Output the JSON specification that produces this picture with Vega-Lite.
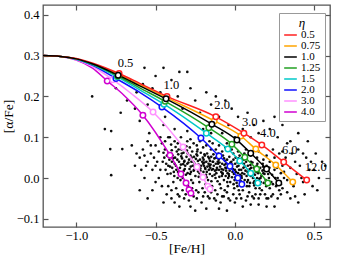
{
"$schema":"https://vega.github.io/schema/vega-lite/v6.json",
"width":287,"height":222,
"autosize":{"type":"none"},
"padding":{"left":43,"top":5,"right":9,"bottom":31},
"config":{
 "font":"Liberation Serif",
 "view":{"stroke":"#555","strokeWidth":1.3},
 "axis":{"grid":false,"domain":false,"labelFont":"Liberation Serif","titleFont":"Liberation Serif","labelFontSize":12.5,"titleFontSize":13.5,"titleFontWeight":"normal","labelColor":"#000","titleColor":"#000","tickColor":"#555","tickWidth":1.2,"tickSize":-5},
 "legend":{"labelFont":"Liberation Serif","titleFont":"Liberation Serif"}
},
"datasets":{
"stars":[
{"x":-0.82,"y":0.12},{"x":-0.78,"y":0.115},{"x":-0.71,"y":0.071},{"x":-0.786,"y":0.071},{"x":-0.78,"y":0.007},{"x":-0.68,"y":0.19},{"x":-0.62,"y":0.21},{"x":-0.58,"y":0.23},{"x":-0.55,"y":0.18},{"x":-0.52,"y":0.22},{"x":-0.63,"y":0.17},{"x":-0.6,"y":0.14},{"x":-0.5,"y":0.25},{"x":-0.47,"y":0.21},{"x":-0.44,"y":0.15},{"x":-0.4,"y":0.24},{"x":-0.36,"y":0.2},{"x":-0.33,"y":0.17},{"x":-0.3,"y":0.26},{"x":-0.28,"y":0.22},{"x":-0.25,"y":0.19},{"x":-0.22,"y":0.16},{"x":-0.18,"y":0.21},{"x":-0.15,"y":0.18},{"x":-0.12,"y":0.2},{"x":-0.1,"y":0.15},{"x":-0.06,"y":0.19},{"x":-0.04,"y":0.13},{"x":-0.02,"y":0.17},{"x":0.02,"y":0.15},{"x":0.05,"y":0.12},{"x":0.08,"y":0.16},{"x":0.12,"y":0.13},{"x":0.15,"y":0.11},{"x":0.18,"y":0.14},{"x":0.22,"y":0.12},{"x":0.27,"y":0.1},{"x":0.3,"y":0.13},{"x":0.35,"y":0.09},{"x":0.4,"y":0.11},{"x":-0.72,"y":0.16},{"x":-0.66,"y":0.24},{"x":-0.57,"y":0.27},{"x":-0.45,"y":0.27},{"x":-0.38,"y":0.12},{"x":-0.35,"y":0.26},{"x":-0.2,"y":0.12},{"x":-0.08,"y":0.11},{"x":0.1,"y":0.1},{"x":0.25,"y":0.15},{"x":-0.9,"y":0.2},{"x":-0.75,"y":0.22},{"x":0.53,"y":0.19},
{"x":-0.445,"y":0.05},{"x":-0.437,"y":0.02},{"x":-0.441,"y":0.07},{"x":-0.433,"y":0.035},
{"x":-0.413,"y":0.045},{"x":-0.405,"y":0.011},{"x":-0.418,"y":0.061},{"x":-0.409,"y":0.028},{"x":-0.402,"y":0.082},
{"x":-0.393,"y":0.055},{"x":-0.385,"y":0.015},{"x":-0.397,"y":0.04},{"x":-0.388,"y":-0.01},
{"x":-0.372,"y":0.03},{"x":-0.366,"y":0.065},{"x":-0.377,"y":0.05},{"x":-0.361,"y":0.0},{"x":-0.369,"y":0.02},{"x":-0.374,"y":0.076},
{"x":-0.352,"y":0.04},{"x":-0.346,"y":0.025},{"x":-0.357,"y":0.058},{"x":-0.343,"y":-0.005},{"x":-0.349,"y":0.012},
{"x":-0.333,"y":0.048},{"x":-0.326,"y":0.034},{"x":-0.337,"y":0.07},{"x":-0.322,"y":0.018},{"x":-0.329,"y":0.0},{"x":-0.335,"y":0.06},
{"x":-0.313,"y":0.03},{"x":-0.305,"y":0.052},{"x":-0.318,"y":0.042},{"x":-0.309,"y":0.008},{"x":-0.302,"y":0.067},{"x":-0.315,"y":-0.015},
{"x":-0.293,"y":0.038},{"x":-0.286,"y":0.022},{"x":-0.297,"y":0.06},{"x":-0.289,"y":0.045},{"x":-0.282,"y":0.01},{"x":-0.295,"y":-0.02},{"x":-0.284,"y":0.075},
{"x":-0.273,"y":0.05},{"x":-0.266,"y":0.03},{"x":-0.277,"y":0.015},{"x":-0.262,"y":0.04},{"x":-0.269,"y":0.065},{"x":-0.275,"y":-0.005},
{"x":-0.253,"y":0.035},{"x":-0.246,"y":0.047},{"x":-0.257,"y":0.02},{"x":-0.242,"y":0.058},{"x":-0.249,"y":0.005},{"x":-0.255,"y":0.028},{"x":-0.244,"y":-0.03},
{"x":-0.233,"y":0.042},{"x":-0.226,"y":0.025},{"x":-0.237,"y":0.055},{"x":-0.222,"y":0.012},{"x":-0.229,"y":0.033},{"x":-0.235,"y":0.07},{"x":-0.224,"y":-0.01},
{"x":-0.213,"y":0.03},{"x":-0.206,"y":0.04},{"x":-0.217,"y":0.018},{"x":-0.202,"y":0.05},{"x":-0.209,"y":0.0},{"x":-0.215,"y":0.062},{"x":-0.204,"y":-0.025},
{"x":-0.193,"y":0.038},{"x":-0.186,"y":0.022},{"x":-0.197,"y":0.045},{"x":-0.182,"y":0.008},{"x":-0.189,"y":0.055},{"x":-0.195,"y":0.03},{"x":-0.184,"y":-0.015},
{"x":-0.173,"y":0.028},{"x":-0.166,"y":0.035},{"x":-0.177,"y":0.015},{"x":-0.162,"y":0.048},{"x":-0.169,"y":-0.005},{"x":-0.175,"y":0.06},{"x":-0.164,"y":0.02},
{"x":-0.153,"y":0.033},{"x":-0.146,"y":0.02},{"x":-0.157,"y":0.042},{"x":-0.142,"y":0.005},{"x":-0.149,"y":0.052},{"x":-0.155,"y":0.025},{"x":-0.144,"y":-0.02},{"x":-0.151,"y":0.07},
{"x":-0.133,"y":0.03},{"x":-0.126,"y":0.018},{"x":-0.137,"y":0.04},{"x":-0.122,"y":0.0},{"x":-0.129,"y":0.048},{"x":-0.135,"y":0.058},{"x":-0.124,"y":-0.03},
{"x":-0.113,"y":0.025},{"x":-0.106,"y":0.035},{"x":-0.117,"y":0.012},{"x":-0.102,"y":0.045},{"x":-0.109,"y":-0.008},{"x":-0.115,"y":0.02},{"x":-0.104,"y":0.06},
{"x":-0.093,"y":0.028},{"x":-0.086,"y":0.015},{"x":-0.097,"y":0.038},{"x":-0.082,"y":0.005},{"x":-0.089,"y":0.05},{"x":-0.095,"y":-0.015},{"x":-0.084,"y":0.022},
{"x":-0.073,"y":0.02},{"x":-0.066,"y":0.032},{"x":-0.077,"y":0.01},{"x":-0.062,"y":0.042},{"x":-0.069,"y":-0.005},{"x":-0.075,"y":0.055},{"x":-0.064,"y":-0.03},
{"x":-0.053,"y":0.025},{"x":-0.046,"y":0.012},{"x":-0.057,"y":0.035},{"x":-0.042,"y":0.0},{"x":-0.049,"y":0.045},{"x":-0.055,"y":0.018},{"x":-0.044,"y":-0.02},
{"x":-0.033,"y":0.018},{"x":-0.026,"y":0.03},{"x":-0.037,"y":0.005},{"x":-0.022,"y":0.04},{"x":-0.029,"y":-0.01},{"x":-0.035,"y":0.052},
{"x":-0.013,"y":0.022},{"x":-0.006,"y":0.01},{"x":-0.017,"y":0.033},{"x":-0.002,"y":-0.005},{"x":-0.009,"y":0.045},{"x":-0.015,"y":0.015},{"x":-0.004,"y":-0.025},
{"x":0.007,"y":0.015},{"x":0.014,"y":0.028},{"x":0.003,"y":0.002},{"x":0.018,"y":0.038},{"x":0.011,"y":-0.012},{"x":0.005,"y":0.05},
{"x":0.027,"y":0.02},{"x":0.034,"y":0.008},{"x":0.023,"y":0.03},{"x":0.038,"y":-0.008},{"x":0.031,"y":0.042},{"x":0.025,"y":-0.03},
{"x":0.047,"y":0.012},{"x":0.054,"y":0.025},{"x":0.043,"y":0.0},{"x":0.058,"y":0.035},{"x":0.051,"y":-0.015},{"x":0.045,"y":0.048},
{"x":0.067,"y":0.018},{"x":0.074,"y":0.005},{"x":0.063,"y":0.028},{"x":0.078,"y":-0.01},{"x":0.071,"y":0.04},
{"x":0.087,"y":0.01},{"x":0.094,"y":0.022},{"x":0.083,"y":-0.005},{"x":0.098,"y":0.032},{"x":0.091,"y":-0.02},
{"x":0.107,"y":0.015},{"x":0.114,"y":0.0},{"x":0.103,"y":0.025},{"x":0.118,"y":-0.012},{"x":0.111,"y":0.038},
{"x":0.127,"y":0.008},{"x":0.134,"y":0.02},{"x":0.123,"y":-0.008},{"x":0.138,"y":0.03},{"x":0.131,"y":-0.025},
{"x":0.147,"y":0.012},{"x":0.154,"y":-0.002},{"x":0.143,"y":0.022},{"x":0.158,"y":-0.015},
{"x":0.167,"y":0.005},{"x":0.174,"y":0.018},{"x":0.163,"y":-0.01},{"x":0.178,"y":0.028},
{"x":0.187,"y":0.01},{"x":0.194,"y":-0.005},{"x":0.183,"y":0.02},{"x":0.198,"y":-0.02},
{"x":-0.6,"y":0.05},{"x":-0.58,"y":0.07},{"x":-0.56,"y":0.03},{"x":-0.55,"y":0.09},{"x":-0.53,"y":0.06},{"x":-0.52,"y":0.02},{"x":-0.5,"y":0.08},{"x":-0.49,"y":0.04},{"x":-0.48,"y":0.0},{"x":-0.47,"y":0.1},{"x":-0.46,"y":-0.02},{"x":-0.5,"y":-0.01},{"x":-0.54,"y":0.11},{"x":-0.57,"y":0.0},{"x":-0.43,"y":-0.04},{"x":-0.4,"y":-0.03},{"x":-0.42,"y":0.1},{"x":-0.38,"y":0.09},{"x":-0.36,"y":-0.04},{"x":-0.34,"y":0.1},{"x":-0.32,"y":-0.05},{"x":-0.3,"y":0.09},{"x":-0.28,"y":-0.04},{"x":-0.26,"y":0.085},{"x":-0.24,"y":-0.05},{"x":-0.22,"y":0.09},{"x":-0.2,"y":-0.045},{"x":-0.18,"y":0.08},{"x":-0.16,"y":-0.05},{"x":-0.14,"y":0.085},{"x":-0.12,"y":-0.055},{"x":-0.1,"y":0.08},{"x":-0.08,"y":-0.045},{"x":-0.06,"y":0.075},{"x":-0.04,"y":-0.05},{"x":-0.02,"y":0.07},{"x":0.0,"y":-0.06},{"x":0.02,"y":0.065},{"x":0.04,"y":-0.05},{"x":0.06,"y":0.06},{"x":0.08,"y":-0.045},{"x":0.1,"y":0.055},{"x":0.12,"y":-0.05},{"x":0.14,"y":0.05},{"x":0.16,"y":-0.04},{"x":0.18,"y":0.045},{"x":0.2,"y":-0.05},{"x":0.22,"y":0.04},{"x":0.24,"y":-0.04},{"x":0.26,"y":0.035},{"x":0.28,"y":-0.03},{"x":0.3,"y":0.03},{"x":-0.35,"y":-0.07},{"x":-0.25,"y":-0.08},{"x":-0.1,"y":-0.075},{"x":0.05,"y":-0.07},{"x":0.15,"y":-0.065},{"x":-0.45,"y":0.13},{"x":-0.3,"y":0.115},{"x":-0.15,"y":0.11},{"x":0.0,"y":0.1},{"x":0.18,"y":0.08},{"x":-0.6,"y":-0.03},{"x":-0.65,"y":0.08},{"x":-0.38,"y":-0.06},{"x":0.25,"y":-0.07},{"x":0.35,"y":-0.05},
{"x":0.21,"y":0.01},{"x":0.23,"y":-0.01},{"x":0.25,"y":0.02},{"x":0.27,"y":0.0},{"x":0.29,"y":-0.015},{"x":0.31,"y":0.015},{"x":0.33,"y":-0.005},{"x":0.35,"y":0.025},{"x":0.37,"y":-0.02},{"x":0.39,"y":0.01},{"x":0.41,"y":0.03},{"x":0.43,"y":-0.01},{"x":0.45,"y":0.05},{"x":0.47,"y":0.02},{"x":0.49,"y":-0.02},{"x":0.51,"y":0.06},{"x":0.53,"y":0.0},{"x":0.55,"y":0.04},{"x":0.4,"y":0.07},{"x":0.36,"y":0.06},{"x":0.32,"y":0.05},{"x":0.28,"y":0.06},{"x":0.44,"y":-0.04},{"x":0.38,"y":-0.045},{"x":0.52,"y":-0.03},{"x":0.57,"y":0.03},{"x":0.33,"y":0.085},{"x":0.46,"y":0.09},{"x":0.24,"y":0.07},{"x":0.2,"y":0.03},{"x":0.22,"y":-0.025},{"x":0.26,"y":-0.02},
{"x":-0.455,"y":0.04},{"x":-0.45,"y":0.062},{"x":-0.428,"y":0.055},{"x":-0.425,"y":0.01},{"x":-0.42,"y":0.03},
{"x":-0.398,"y":0.068},{"x":-0.395,"y":0.025},{"x":-0.39,"y":0.048},{"x":-0.38,"y":0.035},{"x":-0.382,"y":0.005},
{"x":-0.363,"y":0.045},{"x":-0.358,"y":0.015},{"x":-0.355,"y":0.07},{"x":-0.34,"y":0.033},{"x":-0.338,"y":0.053},
{"x":-0.324,"y":0.062},{"x":-0.32,"y":0.04},{"x":-0.316,"y":0.022},{"x":-0.3,"y":0.035},{"x":-0.298,"y":0.012},{"x":-0.306,"y":0.078},
{"x":-0.28,"y":0.055},{"x":-0.278,"y":0.028},{"x":-0.274,"y":0.04},{"x":-0.26,"y":0.018},{"x":-0.258,"y":0.052},{"x":-0.264,"y":-0.012},
{"x":-0.24,"y":0.03},{"x":-0.238,"y":0.065},{"x":-0.232,"y":0.016},{"x":-0.22,"y":0.045},{"x":-0.218,"y":0.024},{"x":-0.228,"y":0.003},
{"x":-0.2,"y":0.035},{"x":-0.198,"y":0.015},{"x":-0.192,"y":0.058},{"x":-0.18,"y":0.04},{"x":-0.178,"y":0.002},{"x":-0.188,"y":0.025},
{"x":-0.16,"y":0.03},{"x":-0.158,"y":0.01},{"x":-0.168,"y":0.052},{"x":-0.14,"y":0.04},{"x":-0.138,"y":0.022},{"x":-0.148,"y":-0.008},
{"x":-0.12,"y":0.035},{"x":-0.118,"y":0.05},{"x":-0.128,"y":0.008},{"x":-0.1,"y":0.02},{"x":-0.098,"y":0.003},{"x":-0.108,"y":0.04},
{"x":-0.08,"y":0.035},{"x":-0.078,"y":0.012},{"x":-0.088,"y":-0.025},{"x":-0.06,"y":0.025},{"x":-0.058,"y":0.005},{"x":-0.068,"y":0.048},
{"x":-0.04,"y":0.03},{"x":-0.038,"y":0.01},{"x":-0.048,"y":-0.01},{"x":-0.02,"y":0.025},{"x":-0.018,"y":0.002},{"x":-0.028,"y":0.038},
{"x":0.0,"y":0.02},{"x":0.002,"y":0.035},{"x":-0.008,"y":-0.015},{"x":0.02,"y":0.012},{"x":0.022,"y":0.048},{"x":0.016,"y":-0.02},
{"x":0.04,"y":0.02},{"x":0.042,"y":0.005},{"x":0.036,"y":0.038},{"x":0.06,"y":0.01},{"x":0.062,"y":-0.005},{"x":0.056,"y":0.045},
{"x":0.08,"y":0.015},{"x":0.082,"y":0.03},{"x":0.076,"y":-0.02},{"x":0.1,"y":0.005},{"x":0.102,"y":0.04},{"x":0.096,"y":-0.012},
{"x":0.12,"y":0.025},{"x":0.122,"y":-0.018},{"x":0.116,"y":0.012},{"x":0.14,"y":0.0},{"x":0.142,"y":0.035},{"x":0.136,"y":0.015},
{"x":0.16,"y":0.025},{"x":0.162,"y":0.0},{"x":0.156,"y":-0.025},{"x":0.18,"y":0.012},{"x":0.182,"y":-0.012},{"x":0.176,"y":0.035},
{"x":0.2,"y":0.018},{"x":0.202,"y":-0.01},{"x":0.215,"y":0.0},{"x":0.218,"y":0.025},{"x":0.235,"y":0.008},{"x":0.24,"y":-0.015},{"x":0.255,"y":0.0},{"x":0.265,"y":0.025},{"x":0.275,"y":-0.008},{"x":0.29,"y":0.012},{"x":0.3,"y":-0.025},{"x":0.31,"y":0.0},
{"x":-0.42,"y":-0.02},{"x":-0.4,"y":-0.05},{"x":-0.37,"y":-0.025},{"x":-0.35,"y":-0.045},{"x":-0.33,"y":-0.03},{"x":-0.31,"y":-0.04},{"x":-0.29,"y":-0.055},{"x":-0.27,"y":-0.025},{"x":-0.26,"y":-0.045},{"x":-0.23,"y":-0.035},{"x":-0.21,"y":-0.06},{"x":-0.19,"y":-0.035},{"x":-0.17,"y":-0.045},{"x":-0.15,"y":-0.035},{"x":-0.13,"y":-0.05},{"x":-0.11,"y":-0.04},{"x":-0.09,"y":-0.06},{"x":-0.07,"y":-0.045},{"x":-0.05,"y":-0.035},{"x":-0.03,"y":-0.055},{"x":-0.01,"y":-0.04},{"x":0.01,"y":-0.05},{"x":0.03,"y":-0.04},{"x":0.05,"y":-0.03},{"x":0.07,"y":-0.055},{"x":0.09,"y":-0.035},{"x":0.11,"y":-0.045},{"x":0.13,"y":-0.04},{"x":0.15,"y":-0.05},{"x":0.17,"y":-0.03},{"x":0.19,"y":-0.04},{"x":0.21,"y":-0.05},{"x":0.23,"y":-0.045},{"x":0.27,"y":-0.05},{"x":0.29,"y":-0.04},{"x":0.33,"y":-0.035},{"x":-0.28,"y":-0.07},{"x":-0.18,"y":-0.075},{"x":-0.05,"y":-0.08},{"x":0.1,"y":-0.065},{"x":0.2,"y":-0.07},{"x":-0.45,"y":-0.06},{"x":-0.55,"y":-0.05},{"x":0.4,"y":-0.06},{"x":0.48,"y":0.04},{"x":0.42,"y":0.0},{"x":0.5,"y":0.02},
{"x":-0.44,"y":0.09},{"x":-0.41,"y":0.1},{"x":-0.36,"y":0.085},{"x":-0.32,"y":0.08},{"x":-0.28,"y":0.095},{"x":-0.24,"y":0.08},{"x":-0.2,"y":0.075},{"x":-0.16,"y":0.09},{"x":-0.12,"y":0.07},{"x":-0.08,"y":0.065},{"x":-0.05,"y":0.085},{"x":-0.01,"y":0.06},{"x":0.03,"y":0.055},{"x":0.07,"y":0.07},{"x":0.11,"y":0.06},{"x":0.15,"y":0.065},{"x":0.2,"y":0.055},{"x":0.25,"y":0.05},{"x":0.3,"y":0.065},{"x":0.38,"y":0.04},{"x":0.43,"y":0.06},
{"x":-0.62,"y":0.06},{"x":-0.59,"y":0.02},{"x":-0.57,"y":0.055},{"x":-0.55,"y":0.04},{"x":-0.53,"y":0.08},{"x":-0.51,"y":0.05},{"x":-0.5,"y":0.03},{"x":-0.48,"y":0.065},{"x":-0.47,"y":0.02},{"x":-0.46,"y":0.085},{"x":-0.52,"y":-0.03},{"x":-0.63,"y":0.03}
],
"models":[
{"eta":"4.0","x":-1.21,"y":0.3},{"eta":"4.0","x":-1.1,"y":0.298},{"eta":"4.0","x":-1.0,"y":0.289},{"eta":"4.0","x":-0.9,"y":0.27},{"eta":"4.0","x":-0.805,"y":0.238,"t":0.5},{"eta":"4.0","x":-0.7,"y":0.203},{"eta":"4.0","x":-0.58,"y":0.154,"t":1},{"eta":"4.0","x":-0.409,"y":0.056,"t":2},{"eta":"4.0","x":-0.34,"y":0.01,"t":3},{"eta":"4.0","x":-0.308,"y":-0.012,"t":4},{"eta":"4.0","x":-0.289,"y":-0.029,"t":6},{"eta":"4.0","x":-0.277,"y":-0.037,"t":12},
{"eta":"3.0","x":-1.21,"y":0.3},{"eta":"3.0","x":-1.1,"y":0.298},{"eta":"3.0","x":-1.0,"y":0.29},{"eta":"3.0","x":-0.9,"y":0.274},{"eta":"3.0","x":-0.77,"y":0.241,"t":0.5},{"eta":"3.0","x":-0.65,"y":0.206},{"eta":"3.0","x":-0.516,"y":0.162,"t":1},{"eta":"3.0","x":-0.327,"y":0.076,"t":2},{"eta":"3.0","x":-0.239,"y":0.027,"t":3},{"eta":"3.0","x":-0.201,"y":0.002,"t":4},{"eta":"3.0","x":-0.17,"y":-0.02,"t":6},{"eta":"3.0","x":-0.157,"y":-0.027,"t":12},
{"eta":"2.0","x":-1.21,"y":0.3},{"eta":"2.0","x":-1.1,"y":0.298},{"eta":"2.0","x":-1.0,"y":0.291},{"eta":"2.0","x":-0.9,"y":0.277},{"eta":"2.0","x":-0.75,"y":0.244,"t":0.5},{"eta":"2.0","x":-0.6,"y":0.21},{"eta":"2.0","x":-0.46,"y":0.174,"t":1},{"eta":"2.0","x":-0.214,"y":0.098,"t":2},{"eta":"2.0","x":-0.1,"y":0.054,"t":3},{"eta":"2.0","x":-0.031,"y":0.029,"t":4},{"eta":"2.0","x":0.019,"y":0.0,"t":6},{"eta":"2.0","x":0.044,"y":-0.015,"t":12},
{"eta":"1.5","x":-1.21,"y":0.3},{"eta":"1.5","x":-1.1,"y":0.298},{"eta":"1.5","x":-1.0,"y":0.291},{"eta":"1.5","x":-0.9,"y":0.278},{"eta":"1.5","x":-0.742,"y":0.248,"t":0.5},{"eta":"1.5","x":-0.6,"y":0.216},{"eta":"1.5","x":-0.447,"y":0.181,"t":1},{"eta":"1.5","x":-0.18,"y":0.11,"t":2},{"eta":"1.5","x":-0.044,"y":0.071,"t":3},{"eta":"1.5","x":0.031,"y":0.042,"t":4},{"eta":"1.5","x":0.1,"y":0.012,"t":6},{"eta":"1.5","x":0.145,"y":-0.012,"t":12},
{"eta":"1.25","x":-1.21,"y":0.3},{"eta":"1.25","x":-1.1,"y":0.298},{"eta":"1.25","x":-1.0,"y":0.292},{"eta":"1.25","x":-0.9,"y":0.279},{"eta":"1.25","x":-0.738,"y":0.25,"t":0.5},{"eta":"1.25","x":-0.6,"y":0.221},{"eta":"1.25","x":-0.44,"y":0.188,"t":1},{"eta":"1.25","x":-0.164,"y":0.123,"t":2},{"eta":"1.25","x":-0.019,"y":0.083,"t":3},{"eta":"1.25","x":0.063,"y":0.051,"t":4},{"eta":"1.25","x":0.138,"y":0.022,"t":6},{"eta":"1.25","x":0.208,"y":-0.012,"t":12},
{"eta":"0.75","x":-1.21,"y":0.3},{"eta":"0.75","x":-1.1,"y":0.298},{"eta":"0.75","x":-1.0,"y":0.292},{"eta":"0.75","x":-0.9,"y":0.281},{"eta":"0.75","x":-0.733,"y":0.254,"t":0.5},{"eta":"0.75","x":-0.6,"y":0.229},{"eta":"0.75","x":-0.43,"y":0.197,"t":1},{"eta":"0.75","x":-0.13,"y":0.14,"t":2},{"eta":"0.75","x":0.038,"y":0.103,"t":3},{"eta":"0.75","x":0.132,"y":0.071,"t":4},{"eta":"0.75","x":0.258,"y":0.032,"t":6},{"eta":"0.75","x":0.365,"y":-0.01,"t":12},
{"eta":"0.5","x":-1.21,"y":0.3},{"eta":"0.5","x":-1.1,"y":0.298},{"eta":"0.5","x":-1.0,"y":0.293},{"eta":"0.5","x":-0.9,"y":0.282},{"eta":"0.5","x":-0.73,"y":0.256,"t":0.5},{"eta":"0.5","x":-0.6,"y":0.232},{"eta":"0.5","x":-0.428,"y":0.2,"t":1},{"eta":"0.5","x":-0.12,"y":0.15,"t":2},{"eta":"0.5","x":0.057,"y":0.11,"t":3},{"eta":"0.5","x":0.17,"y":0.081,"t":4},{"eta":"0.5","x":0.308,"y":0.039,"t":6},{"eta":"0.5","x":0.453,"y":-0.005,"t":12},
{"eta":"1.0","x":-1.21,"y":0.3},{"eta":"1.0","x":-1.1,"y":0.298},{"eta":"1.0","x":-1.0,"y":0.292},{"eta":"1.0","x":-0.9,"y":0.28},{"eta":"1.0","x":-0.736,"y":0.252,"t":0.5},{"eta":"1.0","x":-0.6,"y":0.226},{"eta":"1.0","x":-0.434,"y":0.194,"t":1},{"eta":"1.0","x":-0.145,"y":0.132,"t":2},{"eta":"1.0","x":0.013,"y":0.093,"t":3},{"eta":"1.0","x":0.1,"y":0.061,"t":4},{"eta":"1.0","x":0.2,"y":0.022,"t":6},{"eta":"1.0","x":0.277,"y":-0.012,"t":12}
],
"labels":[
{"x":-0.69,"y":0.282,"text":"0.5"},{"x":-0.4,"y":0.228,"text":"1.0"},{"x":-0.08,"y":0.179,"text":"2.0"},{"x":0.094,"y":0.137,"text":"3.0"},{"x":0.208,"y":0.11,"text":"4.0"},{"x":0.346,"y":0.069,"text":"6.0"},{"x":0.51,"y":0.027,"text":"12.0"}
]
},
"resolve":{"axis":{"x":"independent","y":"independent"}},
"layer":[
{"data":{"name":"stars"},
 "mark":{"type":"circle","size":7,"color":"#000","opacity":0.95,"clip":true},
 "encoding":{
  "x":{"field":"x","type":"quantitative","scale":{"domain":[-1.21,0.6],"nice":false,"zero":false},"axis":{"orient":"bottom","values":[-1,-0.5,0,0.5],"format":".1f","title":"[Fe/H]","labelPadding":7,"titlePadding":0}},
  "y":{"field":"y","type":"quantitative","scale":{"domain":[-0.12,0.424],"nice":false,"zero":false},"axis":{"orient":"left","values":[-0.1,0,0.1,0.2,0.3,0.4],"format":".1f","title":"[α/Fe]","labelPadding":9,"titlePadding":1}}
 }},
{"data":{"name":"models"},
 "mark":{"type":"line","interpolate":"monotone","clip":true},
 "encoding":{
  "x":{"field":"x","type":"quantitative","scale":{"domain":[-1.21,0.6],"nice":false,"zero":false},"axis":{"orient":"top","values":[-1,-0.5,0,0.5],"labels":false,"title":null}},
  "y":{"field":"y","type":"quantitative","scale":{"domain":[-0.12,0.424],"nice":false,"zero":false},"axis":{"orient":"right","values":[-0.1,0,0.1,0.2,0.3,0.4],"labels":false,"title":null}},
  "color":{"field":"eta","type":"nominal","scale":{"domain":["0.5","0.75","1.0","1.25","1.5","2.0","3.0","4.0"],"range":["#ff2020","#ffa500","#000000","#22a022","#00c8c8","#1010ff","#ff90ff","#d000d0"]},
   "legend":{"title":"η","orient":"none","legendX":236,"legendY":8,"padding":4,"fillColor":"#fff","strokeColor":"#999","titleFontStyle":"italic","titleFontWeight":"normal","titleFontSize":13,"titleAnchor":"middle","titlePadding":0,"labelFontSize":11,"symbolType":"stroke","symbolSize":160,"symbolStrokeWidth":2,"clipHeight":10,"rowPadding":0,"labelOffset":3}},
  "strokeWidth":{"field":"eta","type":"nominal","scale":{"domain":["0.5","0.75","1.0","1.25","1.5","2.0","3.0","4.0"],"range":[1.5,1.5,3.2,1.5,1.5,1.5,1.5,1.5]},"legend":{"title":"η"}},
  "order":{"field":"x","type":"quantitative"}
 }},
{"data":{"name":"models"},
 "transform":[{"filter":"datum.t != null"}],
 "mark":{"type":"point","filled":false,"fill":"#fff","fillOpacity":1,"size":30,"strokeWidth":1.5,"opacity":1,"clip":true},
 "encoding":{
  "x":{"field":"x","type":"quantitative","scale":{"domain":[-1.21,0.6],"nice":false,"zero":false},"axis":null},
  "y":{"field":"y","type":"quantitative","scale":{"domain":[-0.12,0.424],"nice":false,"zero":false},"axis":null},
  "color":{"field":"eta","type":"nominal","legend":null}
 }},
{"data":{"name":"labels"},
 "mark":{"type":"text","font":"Liberation Serif","fontSize":12.5,"color":"#000"},
 "encoding":{
  "x":{"field":"x","type":"quantitative","scale":{"domain":[-1.21,0.6],"nice":false,"zero":false},"axis":null},
  "y":{"field":"y","type":"quantitative","scale":{"domain":[-0.12,0.424],"nice":false,"zero":false},"axis":null},
  "text":{"field":"text","type":"nominal"}
 }}
]
}
